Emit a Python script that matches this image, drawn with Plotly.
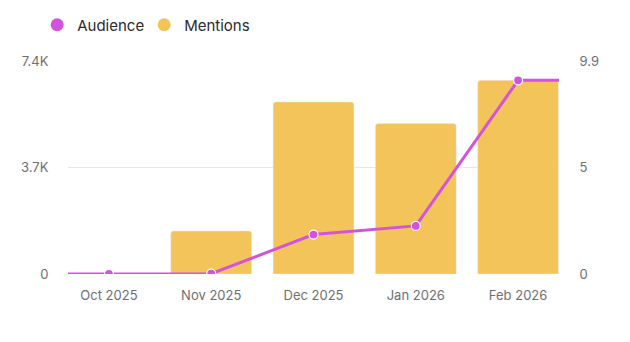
import plotly.graph_objects as go

months = ["Oct 2025", "Nov 2025", "Dec 2025", "Jan 2026", "Feb 2026"]
audience = [0, 12, 1370, 1670, 6730]
mentions = [0, 2, 8, 7, 9]

left_ticks = [0, 3700, 7400]
left_labels = ["0", "3.7K", "7.4K"]
right_ticks = [0, 4.95, 9.9]
right_labels = ["0", "5", "9.9"]

AUD_COLOR = "#d254dc"
MEN_COLOR = "#f2c45a"
TICK_COLOR = "#6e6e76"
GRID_COLOR = "#e6e6ec"

xs = list(range(len(months)))
x_lo, x_hi = -0.4, len(months) - 1 + 0.4

fig = go.Figure()

# mentions bars sit on the base axis (scale shown on the right)
fig.add_trace(go.Bar(
    x=xs, y=mentions, name="Mentions", marker_color=MEN_COLOR,
    yaxis="y", showlegend=False, width=0.79,
))

# audience line on the overlaying axis (scale shown on the left),
# continuing flat to both plot edges
fig.add_trace(go.Scatter(
    x=[x_lo, xs[0]], y=[audience[0], audience[0]], mode="lines", yaxis="y2",
    line=dict(color=AUD_COLOR, width=3), showlegend=False, hoverinfo="skip",
))
fig.add_trace(go.Scatter(
    x=[xs[-1], x_hi], y=[audience[-1], audience[-1]], mode="lines", yaxis="y2",
    line=dict(color=AUD_COLOR, width=3), showlegend=False, hoverinfo="skip",
))
fig.add_trace(go.Scatter(
    x=xs, y=audience, name="Audience", mode="lines+markers", yaxis="y2",
    line=dict(color=AUD_COLOR, width=3),
    marker=dict(color=AUD_COLOR, size=9, line=dict(color="white", width=1.2)),
    showlegend=False,
))

# legend entries drawn as round swatches
fig.add_trace(go.Scatter(x=[None], y=[None], mode="markers", name="Audience",
                         marker=dict(color=AUD_COLOR, size=13)))
fig.add_trace(go.Scatter(x=[None], y=[None], mode="markers", name="Mentions",
                         marker=dict(color=MEN_COLOR, size=13)))

fig.update_layout(
    width=630, height=342,
    margin=dict(l=68, r=71, t=61, b=67.5),
    paper_bgcolor="white", plot_bgcolor="white",
    font=dict(family="Inter", size=13, color=TICK_COLOR),
    barcornerradius=3,
    legend=dict(
        orientation="h", xref="container", yref="container",
        x=0.059, y=1 - 25 / 342, yanchor="middle", xanchor="left",
        font=dict(size=15, color="#2a2a30"), itemsizing="trace",
        traceorder="normal", tracegroupgap=0,
        entrywidth=62, entrywidthmode="pixels",
    ),
    xaxis=dict(
        range=[x_lo, x_hi], tickvals=xs, ticktext=months,
        showgrid=False, zeroline=False, showline=False,
        ticks="outside", ticklen=9, tickcolor="rgba(0,0,0,0)",
        tickfont=dict(size=13, color=TICK_COLOR),
    ),
    yaxis=dict(
        range=[0, 9.9], tickvals=right_ticks, ticktext=right_labels,
        side="right", showgrid=True, gridcolor=GRID_COLOR, gridwidth=1,
        zeroline=False, showline=False,
        ticks="outside", ticklen=17, tickcolor="rgba(0,0,0,0)",
        tickfont=dict(size=13, color=TICK_COLOR),
    ),
    yaxis2=dict(
        range=[0, 7400], tickvals=left_ticks, ticktext=left_labels,
        overlaying="y", side="left", showgrid=False,
        zeroline=False, showline=False,
        ticks="outside", ticklen=16, tickcolor="rgba(0,0,0,0)",
        tickfont=dict(size=13, color=TICK_COLOR),
    ),
)

fig.write_html("out.html")
